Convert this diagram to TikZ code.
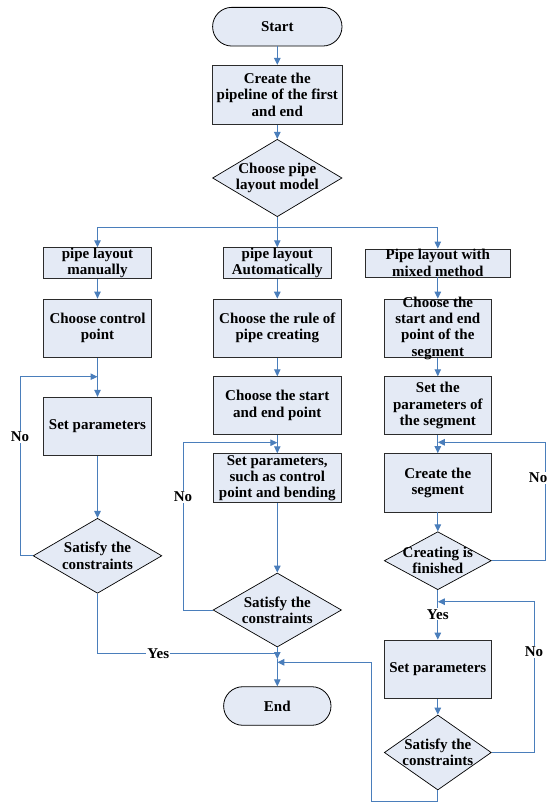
\documentclass[tikz,border=0pt]{standalone}
\usepackage{fontspec}
\setmainfont{Liberation Serif}
\usetikzlibrary{shapes.geometric,arrows.meta}
\definecolor{boxfill}{HTML}{E4EAF5}
\definecolor{lineblue}{HTML}{4A7EBB}
\definecolor{boxline}{HTML}{2B2B2B}
\tikzset{
  box/.style={rectangle, draw=boxline, fill=boxfill, line width=0.9pt, inner sep=0pt},
  dia/.style={diamond, draw=black, fill=boxfill, line width=0.7pt, inner sep=0pt},
  term/.style={rectangle, draw=black, fill=boxfill, line width=0.8pt, rounded corners=19.3pt, inner sep=0pt},
  txt/.style={font=\fontsize{15}{16.3}\selectfont\bfseries, align=center, inner sep=0pt},
  lab/.style={txt, fill=white, inner sep=1pt},
  ln/.style={draw=lineblue, line width=1pt},
  arr/.style={ln, -{Triangle[length=7pt,width=6.5pt]}},
}
\begin{document}
\begin{tikzpicture}[x=1pt,y=-1pt]
\fill[white] (0,0) rectangle (549,803);
\useasboundingbox (0,0) rectangle (549,803);
% top column
\node[term, minimum width=129.4pt, minimum height=38.7pt] (start) at (277.3,26.7) {};
\node[txt] (startt) at (start) {Start};
\node[box, minimum width=129.4pt, minimum height=58.7pt] (b1) at (277.3,94.7) {};
\node[txt] (b1t) at (b1) {Create the\\pipeline of the first\\and end};
\node[dia, minimum width=129.4pt, minimum height=77.4pt] (d1) at (277.3,178) {};
\node[txt] (d1t) at (d1) {Choose pipe\\layout model};
% second row
\node[box, minimum width=108pt, minimum height=30.6pt] (man) at (97.5,263) {};
\node[txt] (mant) at (man) {pipe layout\\manually};
\node[box, minimum width=107.7pt, minimum height=30.6pt] (auto) at (277.3,263) {};
\node[txt] (autot) at (auto) {pipe layout\\Automatically};
\node[box, minimum width=145.7pt, minimum height=28pt] (mix) at (437.8,263) {};
\node[txt] (mixt) at (mix) {Pipe layout with\\mixed method};
% column 1
\node[box, minimum width=107.6pt, minimum height=58.3pt] (ccp) at (97.5,328.2) {};
\node[txt] (ccpt) at (ccp) {Choose control\\point};
\node[box, minimum width=107.6pt, minimum height=58.4pt] (sp1) at (97.5,426.5) {};
\node[txt] (sp1t) at (sp1) {Set parameters};
\node[dia, minimum width=128.7pt, minimum height=75pt] (sat1) at (97.5,555.8) {};
\node[txt] (sat1t) at (sat1) {Satisfy the\\constraints};
% column 2
\node[box, minimum width=128.7pt, minimum height=58.3pt] (rule) at (277.3,328.2) {};
\node[txt] (rulet) at (rule) {Choose the rule of\\pipe creating};
\node[box, minimum width=128.7pt, minimum height=57.6pt] (se) at (277.3,405.5) {};
\node[txt] (set) at (se) {Choose the start\\and end point};
\node[box, minimum width=128.7pt, minimum height=49pt] (spc) at (277.3,478.2) {};
\node[txt] (spct) at (spc) {Set parameters,\\such as control\\point and bending};
\node[dia, minimum width=128.4pt, minimum height=74pt] (sat2) at (277.3,610) {};
\node[txt] (sat2t) at (sat2) {Satisfy the\\constraints};
\node[term, minimum width=107.4pt, minimum height=38.6pt] (endn) at (277.3,706) {};
\node[txt] (endt) at (endn) {End};
% column 3
\node[box, minimum width=107pt, minimum height=58.3pt] (seg1) at (437.8,328.2) {};
\node[txt] (seg1t) at (seg1) {Choose the\\start and end\\point of the\\segment};
\node[box, minimum width=107pt, minimum height=57.6pt] (seg2) at (437.8,405.5) {};
\node[txt] (seg2t) at (seg2) {Set the\\parameters of\\the segment};
\node[box, minimum width=107pt, minimum height=58.3pt] (seg3) at (437.8,482.8) {};
\node[txt] (seg3t) at (seg3) {Create the\\segment};
\node[dia, minimum width=107pt, minimum height=58pt] (fin) at (437.8,560.7) {};
\node[txt] (fint) at (fin) {Creating is\\finished};
\node[box, minimum width=107.4pt, minimum height=58.3pt] (sp3) at (437.8,669.2) {};
\node[txt] (sp3t) at (sp3) {Set parameters};
\node[dia, minimum width=107pt, minimum height=75pt] (sat3) at (437.8,752.5) {};
\node[txt] (sat3t) at (sat3) {Satisfy the\\constraints};
% coordinates
\coordinate (br) at (277.3,227.7);
\coordinate (l1) at (97.5,376.7);
\coordinate (c1) at (20,376.7);
\coordinate (y1) at (277.3,653.3);
\coordinate (l2) at (277.3,442.7);
\coordinate (c2) at (183,442.7);
\coordinate (j1) at (277.3,659);
\coordinate (j2) at (277.3,662.3);
\coordinate (c4) at (371.3,801.7);
\coordinate (l3) at (437.8,442.3);
\coordinate (c3) at (545.3,442.3);
\coordinate (l4) at (437.8,601.7);
\coordinate (c5) at (534,601.7);
% connectors
\draw[arr] (start) -- (b1);
\draw[arr] (b1) -- (d1);
\draw[ln] (d1.south) -- (br);
\draw[arr] (br) -- (auto.north);
\draw[arr] (br) -| (man.north);
\draw[arr] (br) -| (mix.north);
\draw[arr] (man) -- (ccp);
\draw[arr] (ccp) -- (sp1);
\draw[arr] (sp1) -- (sat1);
\draw[arr] (sat1.west) -| (c1) -- (l1);
\draw[ln] (sat1.south) |- (y1);
\draw[arr] (auto) -- (rule);
\draw[arr] (rule) -- (se);
\draw[arr] (se) -- (spc);
\draw[arr] (spc) -- (sat2);
\draw[arr] (sat2.west) -| (c2) -- (l2);
\draw[arr] (sat2.south) -- (j1);
\draw[arr] (j1) -- (endn.north);
\draw[arr] (mix) -- (seg1);
\draw[arr] (seg1) -- (seg2);
\draw[arr] (seg2) -- (seg3);
\draw[arr] (seg3) -- (fin);
\draw[arr] (fin.east) -| (c3) -- (l3);
\draw[arr] (fin.south) -- (sp3.north);
\draw[arr] (sp3) -- (sat3);
\draw[arr] (sat3.east) -| (c5) -- (l4);
\draw[arr] (sat3.south) |- (c4) |- (j2);
% labels
\node[lab] (no1) at (20,437) {No};
\node[lab] (no2) at (183,496.7) {No};
\node[lab, anchor=east] (no3) at (548.5,478) {No};
\node[lab] (no4) at (534,651.7) {No};
\node[lab] (yes1) at (158.3,653.3) {Yes};
\node[lab] (yes2) at (437.8,614.3) {Yes};
\end{tikzpicture}
\end{document}
